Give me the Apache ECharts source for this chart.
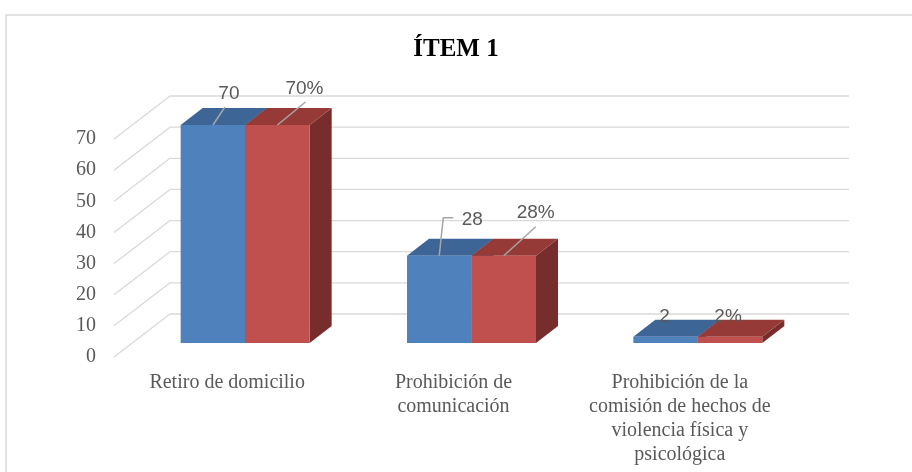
<!DOCTYPE html>
<html>
<head>
<meta charset="utf-8">
<script src="https://cdn.jsdelivr.net/npm/echarts@6/dist/echarts.min.js"></script>
<style>
  html, body { margin: 0; padding: 0; background: #fff; }
  #chart { width: 912px; height: 472px; }
</style>
</head>
<body>
<div id="chart"></div>
<script>
  // datos del gráfico
  const categories = [
    'Retiro de domicilio',
    'Prohibición de\ncomunicación',
    'Prohibición de la\ncomisión de hechos de\nviolencia física y\npsicológica'
  ];
  const frecuencia = [70, 28, 2];
  const porcentaje = [70, 28, 2];
  const yTicks = [0, 10, 20, 30, 40, 50, 60, 70];

  // geometría del "3D" (px)
  const FLOOR_DX = 56, FLOOR_DY = -43;   // profundidad del suelo
  const BAR_OX = 18, BAR_OY = -14;       // plano frontal de las barras
  const BAR_DX = 22, BAR_DY = -17;       // profundidad de cada barra
  const BAR_RATIO = 0.285;               // ancho de barra / ancho de categoría

  // posición de etiquetas respecto al centro superior frontal de cada barra
  const labelLayout = [
    [ {dx: 16, dy: -31, leader: [[12, -18]]},
      {dx: 33, dy: -36, leader: [[4, -38], [14, -38]]},
      {dx: -1, dy: -20, leader: null} ],
    [ {dx: 27, dy: -36, leader: [[28, -23]]},
      {dx: 32, dy: -43, leader: [[32, -29]]},
      {dx: -2, dy: -20, leader: null} ]
  ];

  const colors = [
    {front: '#4f81bd', top: '#3d6596', side: '#2f5480'},
    {front: '#c0504d', top: '#953a37', side: '#772d2b'}
  ];

  const myChart = echarts.init(document.getElementById('chart'));

  function wallItem(params, api) {
    const cs = params.coordSys;
    const y = api.coord([0, api.value(1)])[1];
    const x0 = cs.x, x1 = cs.x + cs.width;
    const st = {stroke: '#d9d9d9', lineWidth: 1.3};
    return {
      type: 'group',
      children: [
        {type: 'line', shape: {x1: x0, y1: y, x2: x0 + FLOOR_DX, y2: y + FLOOR_DY}, style: st},
        {type: 'line', shape: {x1: x0 + FLOOR_DX, y1: y + FLOOR_DY, x2: x1 + FLOOR_DX, y2: y + FLOOR_DY}, style: st}
      ]
    };
  }

  function barItem(sIdx) {
    return function (params, api) {
      const i = api.value(0), v = api.value(1);
      const c = api.coord([i, v]);
      const base = api.coord([i, 0]);
      const w = api.size([1, 0])[0] * BAR_RATIO;
      const x0 = (sIdx === 0 ? c[0] - w : c[0]) + BAR_OX;
      const x1 = x0 + w;
      const yt = c[1] + BAR_OY, yb = base[1] + BAR_OY;
      const col = colors[sIdx];
      const children = [
        {type: 'polygon', shape: {points: [[x1, yt], [x1 + BAR_DX, yt + BAR_DY], [x1 + BAR_DX, yb + BAR_DY], [x1, yb]]},
          style: {fill: col.side}},
        {type: 'polygon', shape: {points: [[x0, yt], [x1, yt], [x1 + BAR_DX, yt + BAR_DY], [x0 + BAR_DX, yt + BAR_DY]]},
          style: {fill: col.top}},
        {type: 'rect', shape: {x: x0, y: yt, width: w, height: yb - yt}, style: {fill: col.front}}
      ];
      const cx = x0 + w / 2;
      const lay = labelLayout[sIdx][i];
      if (lay.leader) {
        const pts = [[cx, yt]].concat(lay.leader.map(p => [cx + p[0], yt + p[1]]));
        children.push({type: 'polyline', shape: {points: pts}, style: {stroke: '#a6a6a6', lineWidth: 1.5, fill: null}});
      }
      children.push({
        type: 'text',
        style: {
          x: cx + lay.dx, y: yt + lay.dy,
          text: sIdx === 0 ? String(v) : v + '%',
          textAlign: 'center', textVerticalAlign: 'middle',
          fill: '#595959', font: '19px "Liberation Sans", sans-serif'
        }
      });
      return {type: 'group', children: children};
    };
  }

  myChart.setOption({
    animation: false,
    title: {
      text: 'ÍTEM 1',
      left: 'center',
      top: 32,
      textStyle: {fontFamily: 'Liberation Serif', fontWeight: 'bold', fontSize: 25, color: '#000'}
    },
    graphic: [{
      type: 'rect', shape: {x: 6, y: 15, width: 930, height: 480},
      style: {fill: null, stroke: '#d9d9d9', lineWidth: 1.5}, z: -10
    }],
    grid: {left: 114, right: 119, top: 139, bottom: 115},
    xAxis: {
      type: 'category',
      data: categories,
      axisLine: {show: false},
      axisTick: {show: false},
      axisLabel: {
        margin: 14, interval: 0,
        fontFamily: 'Liberation Serif', fontSize: 20, color: '#595959', lineHeight: 24
      }
    },
    yAxis: {
      type: 'value', min: 0, max: 70, interval: 10,
      axisLine: {show: false},
      axisTick: {show: false},
      splitLine: {show: false},
      axisLabel: {margin: 18, fontFamily: 'Liberation Serif', fontSize: 20, color: '#595959'}
    },
    series: [
      {type: 'custom', renderItem: wallItem, data: yTicks.map(t => [0, t]), clip: false, silent: true, z: 1},
      {type: 'custom', name: 'Frecuencia', renderItem: barItem(0), data: frecuencia.map((v, i) => [i, v]), clip: false, z: 2},
      {type: 'custom', name: 'Porcentaje', renderItem: barItem(1), data: porcentaje.map((v, i) => [i, v]), clip: false, z: 3}
    ]
  });
</script>
</body>
</html>
